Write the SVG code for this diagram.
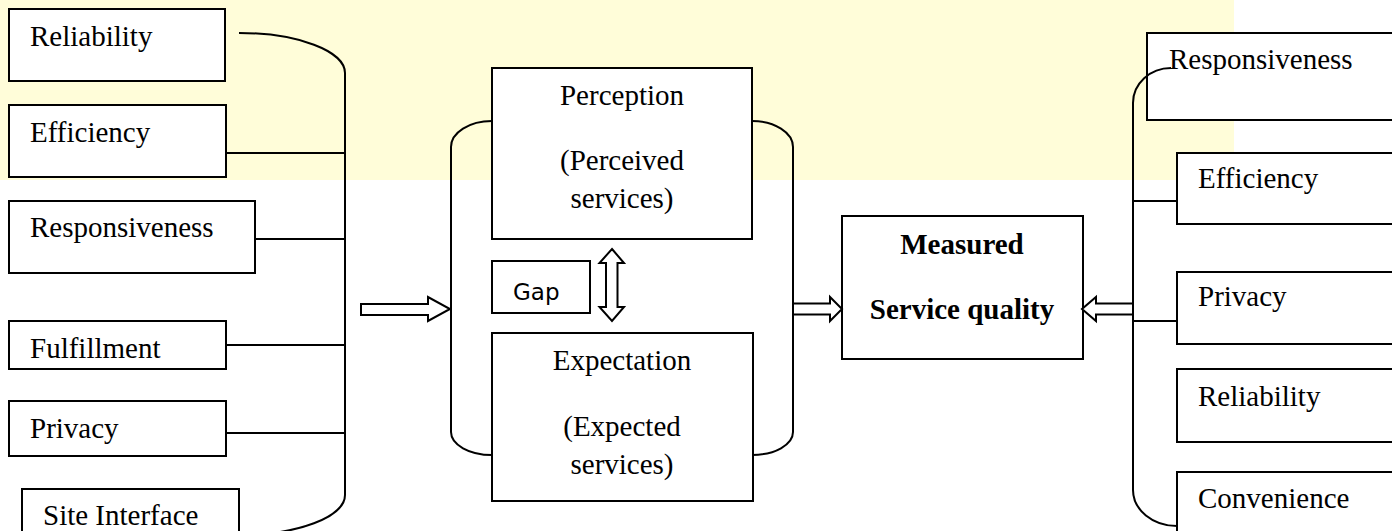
<svg xmlns="http://www.w3.org/2000/svg" width="1392" height="531" viewBox="0 0 1392 531">
<style>
.box{fill:#fff;stroke:#000;stroke-width:2}
.t{font-family:"Liberation Serif","Times New Roman",serif;font-size:29px;fill:#000}
.c{text-anchor:middle}
.b{font-weight:bold}
.ln{fill:none;stroke:#000;stroke-width:2}
.arr{fill:#fff;stroke:#000;stroke-width:2;stroke-linejoin:miter}
.sans{font-family:"DejaVu Sans","Liberation Sans",sans-serif;font-size:23px;fill:#000}
</style>
<rect x="0" y="0" width="1234" height="180" fill="#fffdd9"/>
<g id="left-reliability"><rect class="box" x="9" y="9" width="216" height="72"/><text class="t" x="30" y="46">Reliability</text></g>
<g id="left-efficiency"><rect class="box" x="9" y="105" width="217" height="72"/><text class="t" x="30" y="142">Efficiency</text></g>
<g id="left-responsiveness"><rect class="box" x="9" y="201" width="246" height="72"/><text class="t" x="30" y="237">Responsiveness</text></g>
<g id="left-fulfillment"><rect class="box" x="9" y="321" width="217" height="48"/><text class="t" x="30" y="358">Fulfillment</text></g>
<g id="left-privacy"><rect class="box" x="9" y="401" width="217" height="55"/><text class="t" x="30" y="438">Privacy</text></g>
<g id="left-site"><rect class="box" x="22" y="489" width="217" height="60"/><text class="t" x="43" y="525">Site Interface</text></g>
<g id="perception"><rect class="box" x="492" y="68" width="260" height="171"/><text class="t c" x="622" y="105">Perception</text><text class="t c" x="622" y="170">(Perceived</text><text class="t c" x="622" y="208">services)</text></g>
<g id="gap"><rect class="box" x="492" y="261" width="98" height="52"/><text class="sans" x="513" y="300">Gap</text></g>
<g id="expectation"><rect class="box" x="492" y="333" width="261" height="168"/><text class="t c" x="622" y="370">Expectation</text><text class="t c" x="622" y="436">(Expected</text><text class="t c" x="622" y="474">services)</text></g>
<g id="measured"><rect class="box" x="842" y="216" width="241" height="143"/><text class="t c b" x="962" y="254">Measured</text><text class="t c b" x="962" y="319">Service quality</text></g>
<g id="right-responsiveness"><rect class="box" x="1147" y="33" width="260" height="87"/><text class="t" x="1169" y="69">Responsiveness</text></g>
<g id="right-efficiency"><rect class="box" x="1177" y="153" width="230" height="71"/><text class="t" x="1198" y="188">Efficiency</text></g>
<g id="right-privacy"><rect class="box" x="1177" y="272" width="230" height="72"/><text class="t" x="1198" y="306">Privacy</text></g>
<g id="right-reliability"><rect class="box" x="1177" y="369" width="230" height="73"/><text class="t" x="1198" y="406">Reliability</text></g>
<g id="right-convenience"><rect class="box" x="1177" y="472" width="230" height="70"/><text class="t" x="1198" y="508">Convenience</text></g>
<g id="connectors">
<path class="ln" d="M239,33 A106,40 0 0 1 345,73 L345,495 A106,40 0 0 1 239,535"/>
<path class="ln" d="M226,153 H345 M255,239 H345 M226,345 H345 M226,433 H345"/>
<path class="ln" d="M492,121 A41,26 0 0 0 451,147 L451,432 A41,23 0 0 0 492,455"/>
<path class="ln" d="M752,121 A41,26 0 0 1 793,147 L793,432 A41,23 0 0 1 752,455"/>
<path class="ln" d="M1171,68 A38,35 0 0 0 1133,103 L1133,490 A44,36 0 0 0 1177,526"/>
<path class="ln" d="M1133,201 H1177 M1133,321 H1177"/>
<polygon class="arr" points="361,304 428,304 428,297 450,309 428,321 428,315 361,315"/>
<polygon class="arr" points="793,303.5 830,303.5 830,297 842,309 830,321 830,314.5 793,314.5"/>
<polygon class="arr" points="1133,303.5 1096,303.5 1096,297 1082,309 1096,321 1096,314.5 1133,314.5"/>
<polygon class="arr" points="612,249 624,263 617.5,263 617.5,307 624,307 612,321 599.5,307 606,307 606,263 599.5,263"/>
</g>
</svg>
